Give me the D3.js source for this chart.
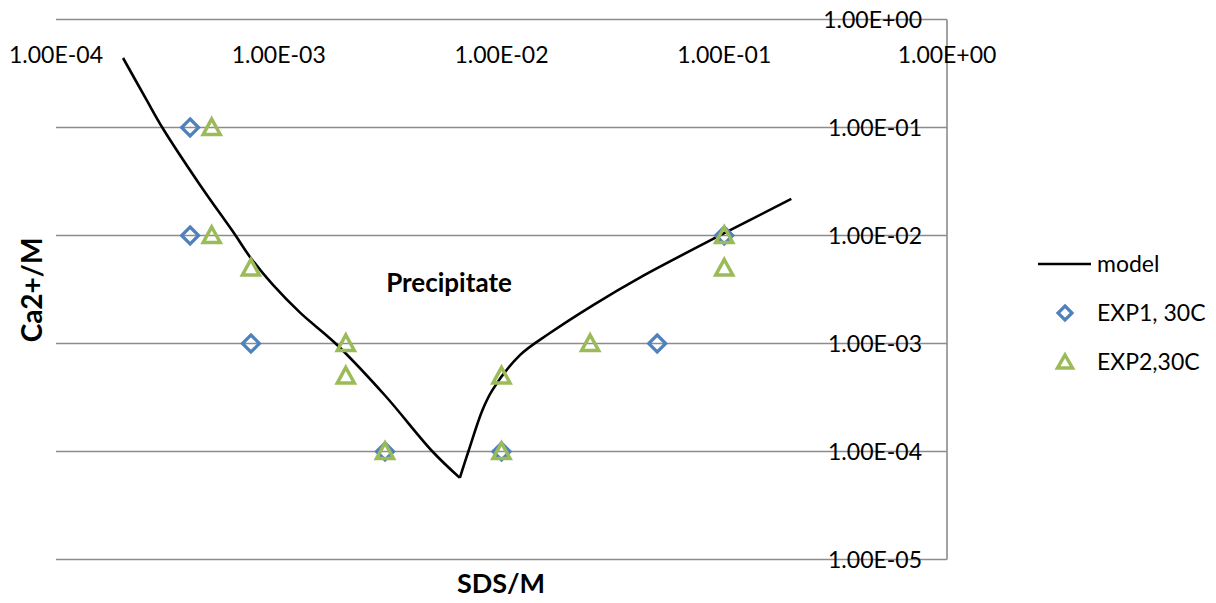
<!DOCTYPE html>
<html>
<head>
<meta charset="utf-8">
<script src="https://cdn.jsdelivr.net/npm/d3@7"></script>
<style>
  body { margin: 0; background: #fff; }
  text { font-family: Lato, "Open Sans", sans-serif; fill: #000; }
</style>
</head>
<body>
<svg id="chart" width="1216" height="603"></svg>
<script>
// model curve (SDS, Ca2+), left branch down to the minimum, then right branch
var modelLeftSDS  = [2e-4, 2.55e-4, 3e-4, 4.4e-4, 6.4e-4, 7.4e-4, 9.4e-4, 1.25e-3, 1.8e-3, 3e-3, 4.9e-3, 6.5e-3];
var modelLeftCa   = [0.44, 0.18, 0.1, 0.03, 0.01, 6.4e-3, 3.5e-3, 1.92e-3, 1e-3, 3.3e-4, 1e-4, 5.7e-5];
var modelRightSDS = [6.5e-3, 7.1e-3, 8.2e-3, 9.1e-3, 1.21e-2, 1.65e-2, 2.58e-2, 4.2e-2, 1e-1, 2e-1];
var modelRightCa  = [5.7e-5, 1e-4, 2.4e-4, 3.7e-4, 7.8e-4, 1.25e-3, 2.27e-3, 4.1e-3, 1.05e-2, 2.18e-2];

// EXP1, 30C
var exp1SDS = [4e-4, 4e-4, 7.5e-4, 3e-3, 1e-2, 5e-2, 1e-1];
var exp1Ca  = [1e-1, 1e-2, 1e-3, 1e-4, 1e-4, 1e-3, 1e-2];

// EXP2,30C
var exp2SDS = [5e-4, 5e-4, 7.5e-4, 2e-3, 2e-3, 3e-3, 1e-2, 1e-2, 2.5e-2, 1e-1, 1e-1];
var exp2Ca  = [1e-1, 1e-2, 5e-3, 1e-3, 5e-4, 1e-4, 5e-4, 1e-4, 1e-3, 1e-2, 5e-3];

var xTicks = [1e-4, 1e-3, 1e-2, 1e-1, 1e0];
var yTicks = [1e0, 1e-1, 1e-2, 1e-3, 1e-4, 1e-5];

var blue = "#4f81bd", green = "#9bbb59", grid = "#8c8c8c";

var svg = d3.select("#chart");

var x = d3.scaleLog().domain([1e-4, 1]).range([56, 947]);
var y = d3.scaleLog().domain([1e-5, 1]).range([559.5, 19.5]);

function sci(v) {
    var e = Math.round(Math.log10(v));
    return "1.00E" + (e < 0 ? "-" : "+") + String(Math.abs(e)).padStart(2, "0");
}

// horizontal gridlines
svg.append("g").selectAll("line").data(yTicks).join("line")
    .attr("x1", x(1e-4)).attr("x2", x(1))
    .attr("y1", d => y(d)).attr("y2", d => y(d))
    .style("stroke", grid).style("stroke-width", "1.6px");

// right axis line
svg.append("line")
    .attr("x1", x(1)).attr("x2", x(1))
    .attr("y1", y(1)).attr("y2", y(1e-5))
    .style("stroke", grid).style("stroke-width", "1.6px");

// y tick labels
svg.append("g").selectAll("text").data(yTicks).join("text")
    .attr("x", x(1) - 25)
    .attr("y", d => y(d))
    .attr("dy", "0.35em")
    .attr("text-anchor", "end")
    .style("font-size", "23px")
    .text(sci);

// x tick labels (top)
svg.append("g").selectAll("text").data(xTicks).join("text")
    .attr("x", d => x(d))
    .attr("y", 55)
    .attr("dy", "0.35em")
    .attr("text-anchor", "middle")
    .style("font-size", "23px")
    .text(sci);

// model line, two smooth branches meeting at a sharp minimum
var line = d3.line().x(d => x(d[0])).y(d => y(d[1])).curve(d3.curveCatmullRom.alpha(0.5));
[[modelLeftSDS, modelLeftCa], [modelRightSDS, modelRightCa]].forEach(function (b) {
    svg.append("path")
        .datum(b[0].map((s, i) => [s, b[1][i]]))
        .attr("d", line)
        .style("fill", "none")
        .style("stroke", "#000")
        .style("stroke-width", "2.6px");
});

// markers
var diamond = "M0,-8.5L8.5,0L0,8.5L-8.5,0Z";
var triangle = "M0,-8.5L8.5,7L-8.5,7Z";

svg.append("g").selectAll("path").data(exp1SDS.map((s, i) => [s, exp1Ca[i]])).join("path")
    .attr("d", diamond)
    .attr("transform", d => "translate(" + x(d[0]) + "," + y(d[1]) + ")")
    .style("fill", "none").style("stroke", blue).style("stroke-width", "3.2px");

svg.append("g").selectAll("path").data(exp2SDS.map((s, i) => [s, exp2Ca[i]])).join("path")
    .attr("d", triangle)
    .attr("transform", d => "translate(" + x(d[0]) + "," + y(d[1]) + ")")
    .style("fill", "none").style("stroke", green).style("stroke-width", "3.5px");

// annotation
svg.append("text")
    .attr("x", 449).attr("y", 283).attr("dy", "0.35em")
    .attr("text-anchor", "middle")
    .style("font-size", "26px").style("font-weight", "bold")
    .text("Precipitate");

// axis titles
svg.append("text")
    .attr("x", 501).attr("y", 584).attr("dy", "0.35em")
    .attr("text-anchor", "middle")
    .style("font-size", "27px").style("font-weight", "bold")
    .text("SDS/M");

svg.append("text")
    .attr("transform", "translate(32,290) rotate(-90)")
    .attr("dy", "0.35em")
    .attr("text-anchor", "middle")
    .style("font-size", "28px").style("font-weight", "bold")
    .text("Ca2+/M");

// legend
svg.append("line")
    .attr("x1", 1038).attr("x2", 1091).attr("y1", 264).attr("y2", 264)
    .style("stroke", "#000").style("stroke-width", "2.6px");
svg.append("text").attr("x", 1097).attr("y", 264).attr("dy", "0.35em")
    .style("font-size", "23px").text("model");

svg.append("path").attr("d", "M0,-7L7,0L0,7L-7,0Z")
    .attr("transform", "translate(1065,313)")
    .style("fill", "none").style("stroke", blue).style("stroke-width", "3.2px");
svg.append("text").attr("x", 1097).attr("y", 313).attr("dy", "0.35em")
    .style("font-size", "23px").text("EXP1, 30C");

svg.append("path").attr("d", "M0,-7L7.5,6L-7.5,6Z")
    .attr("transform", "translate(1065,362)")
    .style("fill", "none").style("stroke", green).style("stroke-width", "3.5px");
svg.append("text").attr("x", 1097).attr("y", 362).attr("dy", "0.35em")
    .style("font-size", "23px").text("EXP2,30C");
</script>
</body>
</html>
